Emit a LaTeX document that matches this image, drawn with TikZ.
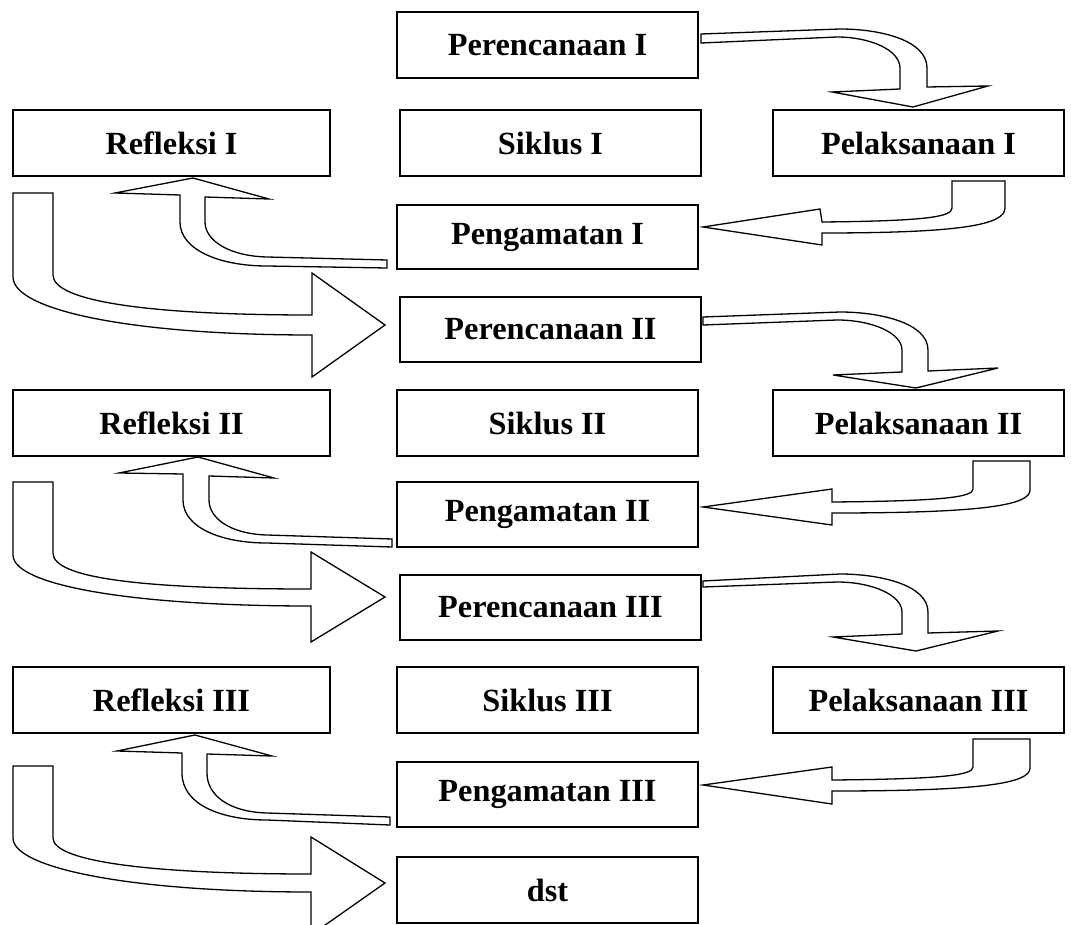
\documentclass[tikz,border=0pt]{standalone}
\usepackage{fontspec}
\setmainfont{Liberation Serif}
\begin{document}
\begin{tikzpicture}[x=1pt,y=-1pt,
  box/.style={draw, line width=1.9pt, inner sep=0pt, minimum height=66pt,
    font=\fontsize{32.3}{36}\selectfont\bfseries},
  wide/.style={box, minimum width=301pt},
  side/.style={box, minimum width=317pt},
  right/.style={box, minimum width=291pt},
  blockarrow/.style={draw, line width=1.3pt, fill=white, line join=miter}]
\useasboundingbox (0,0) rectangle (1071,925);
% boxes
\node[wide] (P1) at (547.5,45) {Perencanaan I};
\node[side] (R1) at (171.5,143) {Refleksi I};
\node[wide] (S1) at (550.5,143) {Siklus I};
\node[right] (L1) at (918.5,143) {Pelaksanaan I};
\node[wide, minimum height=64pt] (G1) at (547.5,237) {Pengamatan I};
\node[wide, minimum height=65pt] (P2) at (550.5,329.5) {Perencanaan II};
\node[side] (R2) at (171.5,423) {Refleksi II};
\node[wide] (S2) at (547.5,423) {Siklus II};
\node[right] (L2) at (918.5,423) {Pelaksanaan II};
\node[wide, minimum height=65pt] (G2) at (547.5,514.5) {Pengamatan II};
\node[wide, minimum height=65pt] (P3) at (550.5,607.5) {Perencanaan III};
\node[side] (R3) at (171.5,700) {Refleksi III};
\node[wide] (S3) at (547.5,700) {Siklus III};
\node[right] (L3) at (918.5,700) {Pelaksanaan III};
\node[wide, minimum height=65pt] (G3) at (547.5,794.5) {Pengamatan III};
\node[wide] (D) at (547.5,890) {dst};
% Perencanaan -> Pelaksanaan
\draw[blockarrow] (701,34) -- (840,29) .. controls (880,29) and (927,40) .. (927,68) -- (927,87) -- (988,86) -- (913,107) -- (832,92) -- (900,89) -- (900,68) .. controls (900,50) and (870,37) .. (837,37) -- (701,43) -- cycle;
\draw[blockarrow] (703,317) -- (840,312) .. controls (880,312) and (928,323) .. (928,350) -- (928,371) -- (998,368) -- (916,388) -- (833,375) -- (902,372) -- (902,350) .. controls (902,333) and (872,320) .. (837,320) -- (703,325) -- cycle;
\draw[blockarrow] (703,581) -- (840,574) .. controls (880,574) and (928,585) .. (928,612) -- (928,633) -- (998,631) -- (916,651) -- (833,637) -- (902,634) -- (902,612) .. controls (902,595) and (872,582) .. (837,582) -- (703,587) -- cycle;
% Pelaksanaan -> Pengamatan
\draw[blockarrow] (952,181) -- (1005,181) -- (1005,208) .. controls (1005,225) and (960,233) .. (822,233) -- (822,245) -- (703,227) -- (820,209) -- (822,222) .. controls (925,221) and (952,217) .. (952,208) -- cycle;
\draw[blockarrow] (973,461) -- (1030,461) -- (1030,490) .. controls (1030,505) and (985,513) .. (832,513) -- (832,525) -- (703,507) -- (832,489) -- (832,502) .. controls (945,501) and (973,497) .. (973,489) -- cycle;
\draw[blockarrow] (973,739) -- (1030,739) -- (1030,768) .. controls (1030,783) and (985,791) .. (832,791) -- (832,804) -- (703,785) -- (832,767) -- (832,780) .. controls (945,779) and (973,775) .. (973,767) -- cycle;
% Pengamatan -> Refleksi
\draw[blockarrow] (387,260) -- (267,257) .. controls (228,256) and (205,240) .. (205,222) -- (205,197) -- (269,199) -- (193,178) -- (115,193) -- (180,195) -- (180,222) .. controls (180,250) and (220,266) .. (267,266) -- (387,268) -- cycle;
\draw[blockarrow] (392,539) -- (267,535) .. controls (230,534) and (209,518) .. (209,500) -- (209,476) -- (274,478) -- (198,457) -- (119,473) -- (183,474) -- (183,500) .. controls (183,528) and (222,543) .. (267,543) -- (392,547) -- cycle;
\draw[blockarrow] (390,817) -- (267,813) .. controls (230,812) and (207,796) .. (207,773) -- (207,754) -- (272,756) -- (195,735) -- (117,751) -- (182,753) -- (182,773) .. controls (182,805) and (222,820) .. (267,820) -- (390,825) -- cycle;
% Refleksi -> next Perencanaan
\draw[blockarrow] (13,193) -- (53,193) -- (53,275) .. controls (53,300) and (140,315) .. (312,315) -- (312,273) -- (385,325) -- (312,377) -- (312,335) .. controls (130,335) and (13,310) .. (13,277) -- cycle;
\draw[blockarrow] (13,482) -- (53,482) -- (53,553) .. controls (53,578) and (140,589) .. (311,589) -- (311,552) -- (385,597) -- (311,642) -- (311,606) .. controls (130,606) and (13,585) .. (13,555) -- cycle;
\draw[blockarrow] (13,766) -- (53,766) -- (53,838) .. controls (53,860) and (140,874) .. (311,874) -- (311,837) -- (385,883) -- (311,935) -- (311,892) .. controls (130,892) and (13,868) .. (13,838) -- cycle;
\end{tikzpicture}
\end{document}
